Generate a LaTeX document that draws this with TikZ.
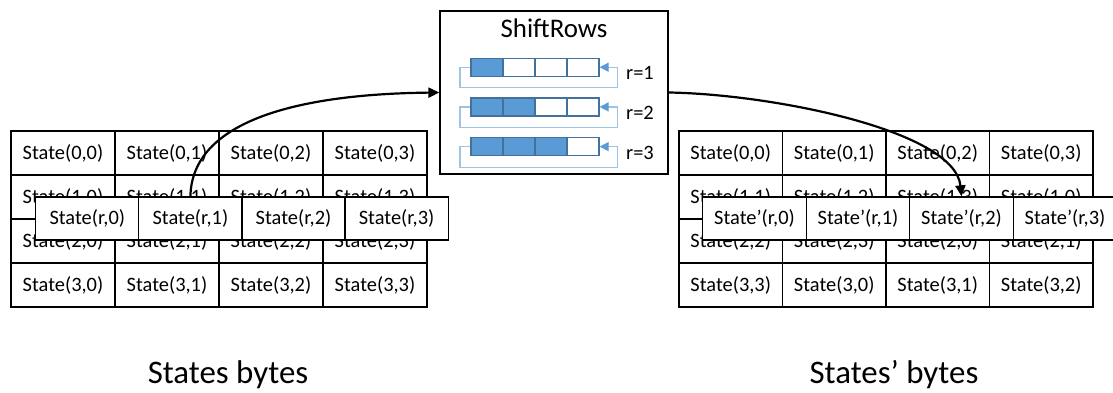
\documentclass[tikz,border=0pt]{standalone}
\usepackage{fontspec}
\setmainfont{Carlito}
\usetikzlibrary{arrows.meta}
\definecolor{cellblue}{HTML}{5B9BD5}
\definecolor{edgeblue}{HTML}{41719C}
\definecolor{loopblue}{HTML}{9DC3E6}

\begin{document}
\begin{tikzpicture}[x=1bp,y=-1bp,
  cellfont/.style={font=\fontsize{20.5}{23}\selectfont},
  cell/.style={draw=black,line width=1.3bp,minimum width=104bp,minimum height=44bp,inner sep=0pt,cellfont},
  rcell/.style={cell,minimum width=103.5bp},
  rowcell/.style={cell,fill=white,minimum width=103.2bp,minimum height=43bp},
  frame/.style={draw=black,line width=1.3bp,inner sep=0pt},
  barcell/.style={draw=edgeblue,line width=1.2bp,minimum width=32bp,minimum height=18bp,inner sep=0pt},
  loopline/.style={draw=loopblue,line width=1.2bp,-{Triangle[length=9bp,width=9bp,fill=cellblue,color=cellblue]}},
  flow/.style={draw=black,line width=2.2bp,-{Triangle[length=11bp,width=10bp]}},
  caption/.style={font=\fontsize{33}{38}\selectfont,anchor=base},
]
\useasboundingbox (0,0) rectangle (1113,392);

% input state matrix
\foreach \r in {0,...,3}{
  \foreach \c in {0,...,3}{
    \node[cell] (L\r\c) at ({63+104*\c},{153+44*\r}) {State(\r,\c)};
  }
}
% row r lifted out of the input matrix
\foreach \c in {0,...,3}{
  \node[rowcell] (LR\c) at ({87.3+103.1*\c},218.5) {State(r,\c)};
}

% output state matrix, rows rotated left by their index
\foreach \r in {0,...,3}{
  \foreach \c in {0,...,3}{
    \pgfmathtruncatemacro\k{mod(\c+\r,4)}
    \node[rcell] (R\r\c) at ({730.75+103.5*\c},{153+44*\r}) {State(\r,\k)};
  }
}
% shifted row r
\foreach \c in {0,...,3}{
  \node[rowcell,minimum width=103.5bp] (RR\c) at ({754.5+103.5*\c},218.5) {State’(r,\c)};
}

% ShiftRows operation box
\node[frame,minimum width=228bp,minimum height=163bp] (shift) at (554,92.5) {};
\node[font=\fontsize{27}{30}\selectfont,anchor=base] (title) at (554,37.5) {ShiftRows};

\foreach \k in {1,2,3}{
  \pgfmathsetmacro\ym{67.2+39.7*(\k-1)}
  \foreach \c in {0,...,3}{
    \pgfmathsetmacro\fc{\c<\k ? "cellblue" : "white"}
    \node[barcell,fill=\fc] (B\k\c) at ({487+32*\c},\ym) {};
  }
  \draw[loopline] (B\k0.west) -- ++(-10.5,0) -- ++(0,20.5) -- ++(157.5,0) -- ++(0,-20.5) -- (B\k3.east);
  \node[cellfont,anchor=base] (lab\k) at (640,{\ym+12.5}) {r=\k};
}

% data flow arrows
\draw[flow] (LR1.north) .. controls (192,120) and (300,94) .. (shift.west);
\draw[flow] (shift.east) .. controls (770,94) and (955,130) .. (RR2.north);

% captions
\node[caption] (capL) at (228,383) {States bytes};
\node[caption] (capR) at (894,383) {States’ bytes};
\end{tikzpicture}
\end{document}
